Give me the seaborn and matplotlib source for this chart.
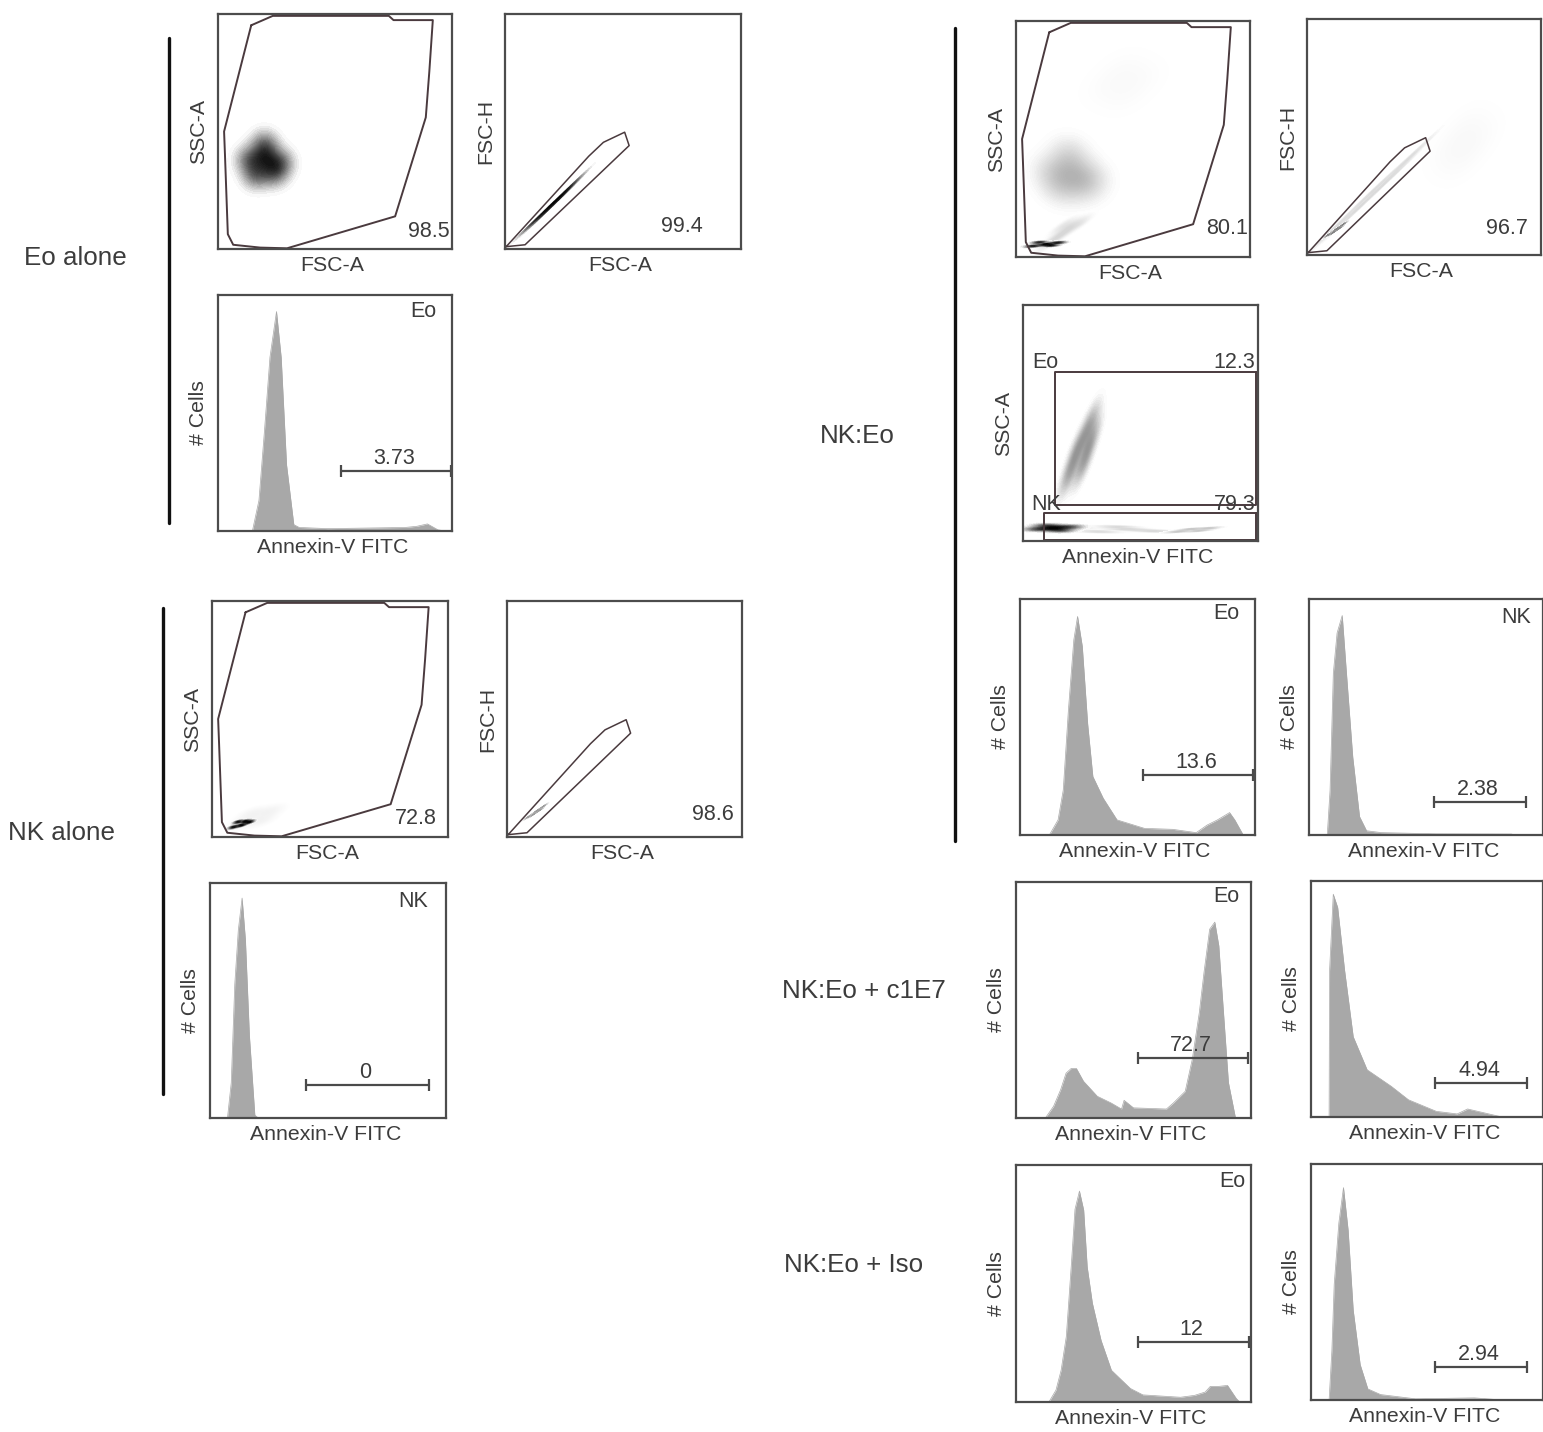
import matplotlib
matplotlib.use("Agg")
import matplotlib.pyplot as plt
from matplotlib.colors import LinearSegmentedColormap
import seaborn as sns

W, H = 1543, 1432

# gates (percent of panel)
ssc_gate_x = [14.2, 23.4, 73, 75, 91.8, 90.3, 88.8, 75.7, 29.5, 18, 6.5, 4.2, 3, 2.6, 14.2]
ssc_gate_y = [95.2, 99.2, 99.2, 97.4, 97.4, 75.4, 56, 13.9, 0.3, 0.6, 1.8, 6.3, 39.5, 50, 95.2]
fsc_gate_x = [0.5, 8.5, 52.6, 50.7, 41.7, 35.5, 0.5]
fsc_gate_y = [1, 1.8, 44, 49.7, 45.4, 39.5, 1]

# histograms (x, height in percent of panel)
eo_alone_x = [14.7, 17.5, 19.9, 22.2, 25, 27, 29.3, 32.4, 34.7, 47, 80, 85, 89.5, 94, 97]
eo_alone_y = [0, 13, 43, 73.6, 93, 73.6, 28, 2.7, 1.5, 1, 1.5, 2, 3, 0.5, 0]
nk_alone_x = [7.4, 9, 10.5, 12, 13.6, 15, 16.7, 19, 20.5]
nk_alone_y = [0, 15, 57, 80, 93.6, 76, 35, 1.2, 0]
eo_mix_x = [12.5, 16.2, 18.4, 20.6, 22.9, 24.5, 26.5, 28.8, 31, 35.4, 41.3, 53, 65, 75, 79.6, 84, 89.2, 91.4, 95]
eo_mix_y = [0, 6.4, 19, 53, 82.7, 92.6, 80, 47, 24.8, 15.6, 6.4, 2.8, 2.4, 1, 4.2, 6.4, 9.5, 6.4, 0]
nk_mix_x = [7.8, 9, 10.4, 12, 14.2, 16, 18.7, 21.6, 24.6, 31, 54, 86.5, 88]
nk_mix_y = [0, 19, 68.6, 85.6, 93, 68.6, 33, 7.8, 1.8, 1, 0.5, 0.4, 0]
eo_c1e7_x = [12.5, 16, 19, 21.3, 23.5, 25.7, 28.7, 34.6, 40.4, 44.9, 46, 50, 64, 67, 72, 75, 78, 80, 82.4, 84.6, 86.3, 88.2, 90.4, 93.4]
eo_c1e7_y = [0, 5, 12, 19, 21, 21, 15.6, 9.2, 6.4, 3.8, 7.5, 4.3, 3.8, 6.4, 11.3, 24.8, 44.7, 61.7, 80, 83, 73, 46, 15, 0]
nk_c1e7_x = [7.8, 8, 9.6, 11.5, 14.5, 18.2, 24.2, 34.6, 42, 54, 63, 67.5, 78, 82.4]
nk_c1e7_y = [0, 62, 94.4, 88.8, 62, 34, 20, 13, 7.3, 2.4, 1.3, 3.4, 1, 0]
eo_iso_x = [14, 17, 19.2, 21.4, 23.6, 25.1, 27, 28.8, 30.3, 32.5, 36.2, 40.6, 45, 48.7, 54, 70, 76, 80.5, 82.7, 86.4, 90, 93.8, 95.3]
eo_iso_y = [0, 5, 13.4, 27.6, 58.7, 81.3, 89, 81, 57, 41.7, 26, 13.4, 9.2, 5.7, 3, 2, 2.8, 4.2, 6.6, 6.6, 7, 1.4, 0]
nk_iso_x = [7.8, 9, 10, 12, 14, 16, 18.2, 21.2, 24.5, 30, 45, 70.4, 82.4]
nk_iso_y = [0, 21, 49, 75, 90, 72, 38, 15, 4.7, 2.3, 0.5, 0.9, 0]

# marker gates on histograms: start, end, height, label
bar_starts = [52.6, 40.7, 52.3, 53.4, 52, 53.4, 52, 53.4]
bar_ends = [99.6, 92.8, 99, 92.7, 98.7, 93, 99, 93]
bar_heights = [25.4, 14, 25.4, 14, 25.4, 14.4, 25.3, 14]
bar_labels = ["3.73", "0", "13.6", "2.38", "72.7", "4.94", "12", "2.94"]

# density blobs
eo_blob_x = [13, 20, 27, 16, 24, 20]
eo_blob_y = [38, 45, 37, 31, 32, 39]
mix_blob_x = [15, 23, 32, 19, 28, 23]
mix_blob_y = [36, 44, 34, 29, 30, 37]
mix_spot_x = [7, 10, 12.5, 15, 18]
mix_spot_y = [4.6, 6.2, 5.4, 4.9, 6.1]
mix_tail_x = [14, 19, 23, 27, 20]
mix_tail_y = [6, 9, 13, 14, 13]
mix_far_x = [38, 46, 54, 46]
mix_far_y = [72, 80, 76, 68]
nk_spot_x = [9, 11, 12.5, 14, 16]
nk_spot_y = [4.2, 6.4, 5, 6.6, 6.4]
nk_halo_x = [13, 17, 21, 25]
nk_halo_y = [6, 10, 7, 11]
diag_dark_x = [12, 16, 20, 24, 28]
diag_dark_y = [11.4, 14.6, 19.2, 22.4, 26.8]
diag_pale_x = [12, 20, 28, 36, 44]
diag_pale_y = [11.6, 18, 27, 33, 41.4]
diag_spot_x = [9, 11, 12.5, 14, 15.5]
diag_spot_y = [8.5, 9.4, 11, 11.4, 13]
far_x = [60, 68, 74, 66]
far_y = [44, 54, 50, 40]
side_x = [19.5, 25.5, 23, 29, 28.5]
side_y = [28, 32, 39, 43, 50]
strip_x = [6, 10, 13, 16, 20]
strip_y = [5, 6.5, 5.5, 4.5, 6]
strip_far_x = [20, 32, 44, 56, 40]
strip_far_y = [5.6, 4, 5, 4.2, 6]
strip_end_x = [66, 71, 75, 79]
strip_end_y = [4, 5, 4.4, 5.4]

group_names = ["Eo alone", "NK alone", "NK:Eo", "NK:Eo + c1E7", "NK:Eo + Iso"]

sns.set_theme(style="white")
plt.rcParams["font.family"] = ["Liberation Sans", "DejaVu Sans"]
TXT = "#3c3c3c"
GATE = "#4a3a3e"
FILL = "#a8a8a8"

fig = plt.figure(figsize=(W / 100, H / 100), dpi=100)


def panel(box, xlabel, ylabel):
    l, t, r, b = box
    ax = fig.add_axes([l / W, 1 - b / H, (r - l) / W, (b - t) / H])
    ax.set_xticks([])
    ax.set_yticks([])
    for s in ax.spines.values():
        s.set_linewidth(1.6)
        s.set_color("#4c4c4c")
    ax.set_xlabel(xlabel, fontsize=15.3, color=TXT, labelpad=5, x=0.49)
    ax.set_ylabel(ylabel, fontsize=15.3, color=TXT, labelpad=7)
    ax.set_xlim(0, 100)
    ax.set_ylim(0, 100)
    return ax


def blob(ax, xs, ys, peak, bw=1.0):
    shade = 1 - peak
    cmap = LinearSegmentedColormap.from_list("b", [(1, 1, 1), (shade, shade, shade)])
    sns.kdeplot(x=xs, y=ys, fill=True, levels=30, thresh=0.03, cmap=cmap,
                bw_adjust=bw, ax=ax)
    ax.set_xlim(0, 100)
    ax.set_ylim(0, 100)


def gate(ax, xs, ys, lw=1.4):
    ax.plot(xs, ys, color=GATE, lw=lw, solid_joinstyle="round")


def hist(ax, xs, ys):
    sns.lineplot(x=xs, y=ys, color=FILL, lw=0.5, ax=ax)
    ax.fill_between(xs, ys, color=FILL, lw=0)
    ax.set_xlim(0, 100)
    ax.set_ylim(0, 100)


def rng(ax, i):
    ax.plot([bar_starts[i], bar_ends[i]], [bar_heights[i]] * 2, color="#4a4a4a", lw=1.6,
            marker="|", markersize=8, markeredgewidth=1.6)
    ax.text((bar_starts[i] + bar_ends[i]) / 2 - 0.8, bar_heights[i] + 0.8, bar_labels[i],
            ha="center", va="bottom", fontsize=15.5, color=TXT)


def note(ax, x, y, s, size=15.5):
    ax.text(x, y, s, ha="center", va="center", fontsize=size, color=TXT)


# Eo alone
ax = panel((218, 14, 452, 249), "FSC-A", "SSC-A")
blob(ax, eo_blob_x, eo_blob_y, 0.92, 1.1)
gate(ax, ssc_gate_x, ssc_gate_y)
note(ax, 90, 7.5, "98.5")
ax = panel((505, 14, 741, 249), "FSC-A", "FSC-H")
blob(ax, diag_dark_x, diag_dark_y, 1.0)
gate(ax, fsc_gate_x, fsc_gate_y, 1.1)
note(ax, 75, 9.5, "99.4")
ax = panel((218, 295, 452, 531), "Annexin-V FITC", "# Cells")
hist(ax, eo_alone_x, eo_alone_y)
rng(ax, 0)
note(ax, 87.6, 93, "Eo")

# NK alone
ax = panel((212, 601, 448, 837), "FSC-A", "SSC-A")
blob(ax, nk_halo_x, nk_halo_y, 0.05)
blob(ax, nk_spot_x, nk_spot_y, 1.0, 0.7)
gate(ax, ssc_gate_x, ssc_gate_y)
note(ax, 86.4, 8, "72.8")
ax = panel((507, 601, 742, 837), "FSC-A", "FSC-H")
blob(ax, diag_spot_x, diag_spot_y, 0.4, 0.6)
gate(ax, fsc_gate_x, fsc_gate_y, 1.1)
note(ax, 87.6, 9.5, "98.6")
ax = panel((210, 883, 446, 1118), "Annexin-V FITC", "# Cells")
hist(ax, nk_alone_x, nk_alone_y)
rng(ax, 1)
note(ax, 86, 92, "NK")

# NK:Eo
ax = panel((1016, 21, 1250, 257), "FSC-A", "SSC-A")
blob(ax, mix_far_x, mix_far_y, 0.02, 1.3)
blob(ax, mix_blob_x, mix_blob_y, 0.3, 1.3)
blob(ax, mix_tail_x, mix_tail_y, 0.16)
blob(ax, mix_spot_x, mix_spot_y, 1.0, 0.7)
gate(ax, ssc_gate_x, ssc_gate_y)
note(ax, 90, 12, "80.1")
ax = panel((1307, 19, 1541, 255), "FSC-A", "FSC-H")
blob(ax, far_x, far_y, 0.025, 1.4)
blob(ax, diag_pale_x, diag_pale_y, 0.15, 0.8)
blob(ax, diag_spot_x, diag_spot_y, 0.5, 0.6)
gate(ax, fsc_gate_x, fsc_gate_y, 1.1)
note(ax, 85.5, 11.2, "96.7")
ax = panel((1023, 305, 1258, 541), "Annexin-V FITC", "SSC-A")
blob(ax, side_x, side_y, 0.42)
blob(ax, strip_far_x, strip_far_y, 0.15, 0.6)
blob(ax, strip_end_x, strip_end_y, 0.22, 0.8)
blob(ax, strip_x, strip_y, 1.0)
gate(ax, [99, 13.6, 13.6, 99, 99], [71.6, 71.6, 15.3, 15.3, 71.6])
gate(ax, [99, 9, 9, 99, 99], [11.9, 11.9, 0.5, 0.5, 11.9])
note(ax, 9.5, 75.5, "Eo")
note(ax, 90, 75.5, "12.3")
note(ax, 10, 15.5, "NK")
note(ax, 90, 15.5, "79.3")
ax = panel((1020, 599, 1255, 835), "Annexin-V FITC", "# Cells")
hist(ax, eo_mix_x, eo_mix_y)
rng(ax, 2)
note(ax, 88, 94, "Eo")
ax = panel((1309, 599, 1543, 835), "Annexin-V FITC", "# Cells")
hist(ax, nk_mix_x, nk_mix_y)
rng(ax, 3)
note(ax, 88.5, 92, "NK")

# NK:Eo + c1E7
ax = panel((1016, 882, 1251, 1118), "Annexin-V FITC", "# Cells")
hist(ax, eo_c1e7_x, eo_c1e7_y)
rng(ax, 4)
note(ax, 89.4, 94, "Eo")
ax = panel((1311, 881, 1543, 1117), "Annexin-V FITC", "# Cells")
hist(ax, nk_c1e7_x, nk_c1e7_y)
rng(ax, 5)

# NK:Eo + Iso
ax = panel((1016, 1165, 1251, 1402), "Annexin-V FITC", "# Cells")
hist(ax, eo_iso_x, eo_iso_y)
rng(ax, 6)
note(ax, 92, 93, "Eo")
ax = panel((1311, 1164, 1543, 1400), "Annexin-V FITC", "# Cells")
hist(ax, nk_iso_x, nk_iso_y)
rng(ax, 7)

# group bars and names
for x, y0, y1 in [(169, 38, 523), (163, 608, 1094), (955, 28, 841)]:
    fig.add_artist(plt.Line2D([x / W, x / W], [1 - y0 / H, 1 - y1 / H], color="#111111", lw=2.4))

for s, x, y in zip(group_names, [75, 62, 857, 864, 854], [258, 833, 436, 991, 1265]):
    fig.text(x / W, 1 - y / H, s, ha="center", va="center", fontsize=18.7, color=TXT)

fig.savefig("out.png", dpi=100)
